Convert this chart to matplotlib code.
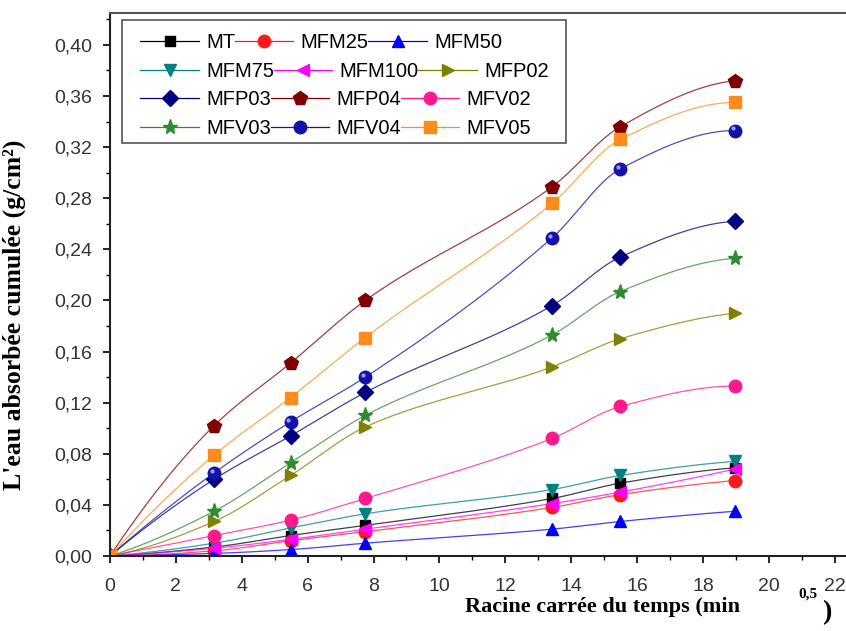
import numpy as np
import matplotlib
matplotlib.use("Agg")
import matplotlib.pyplot as plt
from matplotlib.patches import Rectangle
from matplotlib.transforms import offset_copy
from matplotlib.ticker import MultipleLocator, FixedLocator, FixedFormatter

# ---- data: square root of time (min^0.5) and cumulative absorbed water (g/cm2)
sqrt_t = [0, 3.16, 5.48, 7.75, 13.42, 15.49, 18.97]

MT     = [0, 0.007, 0.016, 0.024, 0.045, 0.057, 0.069]
MFM25  = [0, 0.004, 0.012, 0.019, 0.038, 0.048, 0.059]
MFM50  = [0, 0.002, 0.005, 0.010, 0.021, 0.027, 0.035]
MFM75  = [0, 0.010, 0.022, 0.033, 0.052, 0.063, 0.074]
MFM100 = [0, 0.006, 0.013, 0.021, 0.041, 0.050, 0.068]
MFP02  = [0, 0.027, 0.063, 0.101, 0.148, 0.170, 0.190]
MFP03  = [0, 0.060, 0.094, 0.128, 0.196, 0.234, 0.262]
MFP04  = [0, 0.102, 0.151, 0.200, 0.289, 0.336, 0.372]
MFV02  = [0, 0.016, 0.028, 0.045, 0.092, 0.117, 0.133]
MFV03  = [0, 0.035, 0.073, 0.110, 0.173, 0.207, 0.233]
MFV04  = [0, 0.065, 0.105, 0.140, 0.249, 0.303, 0.333]
MFV05  = [0, 0.079, 0.124, 0.171, 0.276, 0.326, 0.355]

names = ["MT", "MFM25", "MFM50", "MFM75", "MFM100", "MFP02",
         "MFP03", "MFP04", "MFV02", "MFV03", "MFV04", "MFV05"]
series = [MT, MFM25, MFM50, MFM75, MFM100, MFP02,
          MFP03, MFP04, MFV02, MFV03, MFV04, MFV05]

x_ticks = [0, 2, 4, 6, 8, 10, 12, 14, 16, 18, 20, 22]
x_tick_labels = ["0", "2", "4", "6", "8", "10", "12", "14", "16", "18", "20", "22"]
y_ticks = [0.00, 0.04, 0.08, 0.12, 0.16, 0.20, 0.24, 0.28, 0.32, 0.36, 0.40]
y_tick_labels = ["0,00", "0,04", "0,08", "0,12", "0,16", "0,20",
                 "0,24", "0,28", "0,32", "0,36", "0,40"]

# ---- styles
colors = ["#000000", "#ff1a1a", "#0000ff", "#008080", "#ff00ff", "#808000",
          "#000080", "#800000", "#ff1a8c", "#2e8b2e", "#1212a8", "#ff8c1a"]
markers = ["s", "o", "^", "v", "<", ">", "D", "p", "o", "*", "o", "s"]
msizes = [7, 9, 9, 9, 9, 9, 8, 10, 9, 11, 9, 8]
SERIF = "Liberation Serif"
SANS = "Liberation Sans"


def pchip(x, y, n=300):
    """Shape-preserving piecewise cubic through the points."""
    x = np.asarray(x, float)
    y = np.asarray(y, float)
    h = np.diff(x)
    delta = np.diff(y) / h
    m = len(x)
    d = np.zeros(m)
    for k in range(1, m - 1):
        if delta[k - 1] * delta[k] > 0:
            w1 = 2 * h[k] + h[k - 1]
            w2 = h[k] + 2 * h[k - 1]
            d[k] = (w1 + w2) / (w1 / delta[k - 1] + w2 / delta[k])
    d[0] = ((2 * h[0] + h[1]) * delta[0] - h[0] * delta[1]) / (h[0] + h[1])
    if np.sign(d[0]) != np.sign(delta[0]):
        d[0] = 0
    d[-1] = ((2 * h[-1] + h[-2]) * delta[-1] - h[-1] * delta[-2]) / (h[-1] + h[-2])
    if np.sign(d[-1]) != np.sign(delta[-1]):
        d[-1] = 0
    xs = np.linspace(x[0], x[-1], n)
    i = np.clip(np.searchsorted(x, xs, side="right") - 1, 0, m - 2)
    t = (xs - x[i]) / h[i]
    h00 = 2 * t ** 3 - 3 * t ** 2 + 1
    h10 = t ** 3 - 2 * t ** 2 + t
    h01 = -2 * t ** 3 + 3 * t ** 2
    h11 = t ** 3 - t ** 2
    ys = h00 * y[i] + h10 * h[i] * d[i] + h01 * y[i + 1] + h11 * h[i] * d[i + 1]
    return xs, ys


fig = plt.figure(figsize=(8.46, 6.31), dpi=100)
ax = fig.add_axes([0.130, 0.1189, 0.870, 0.8605])

handles = []
for name, vals, col, mk, ms in zip(names, series, colors, markers, msizes):
    xs, ys = pchip(sqrt_t, vals)
    ax.plot(xs, ys, color=col, lw=0.9, alpha=0.75)
    ax.plot(sqrt_t, vals, linestyle="none", marker=mk, ms=ms, color=col,
            markeredgecolor=col)
    if name == "MFV04":
        # glossy highlight on the sphere markers
        hl = offset_copy(ax.transData, fig=fig, x=-1.5, y=1.5, units="points")
        ax.plot(sqrt_t, vals, linestyle="none", marker="o", ms=3,
                color="#9a9aff", markeredgewidth=0, transform=hl)
    h, = plt.plot([], [], color=col, lw=0.9, marker=mk, ms=ms,
                  markeredgecolor=col)
    handles.append(h)

ax.set_xlim(0, 22.34)
ax.set_ylim(0, 0.425)

ax.xaxis.set_major_locator(FixedLocator(x_ticks))
ax.xaxis.set_major_formatter(FixedFormatter(x_tick_labels))
ax.xaxis.set_minor_locator(MultipleLocator(1))
ax.yaxis.set_major_locator(FixedLocator(y_ticks))
ax.yaxis.set_major_formatter(FixedFormatter(y_tick_labels))
ax.yaxis.set_minor_locator(MultipleLocator(0.02))

ax.tick_params(which="major", direction="out", length=5, width=1.2,
               labelsize=14, labelcolor="#333333")
ax.tick_params(axis="x", which="major", pad=11)
ax.tick_params(axis="y", which="major", pad=8)
ax.tick_params(which="minor", direction="out", length=3, width=1.0)
for lab in ax.get_xticklabels() + ax.get_yticklabels():
    lab.set_family(SANS)

for s in ["left", "bottom", "top"]:
    ax.spines[s].set_linewidth(1.5)
    ax.spines[s].set_color("#222222")
ax.spines["top"].set_color("#555555")
ax.spines["right"].set_visible(False)

ax.set_ylabel("L'eau absorbée cumulée (g/cm²)", family=SERIF,
              fontweight="bold", fontsize=18.5)
ax.yaxis.set_label_coords(-0.114, 0.445)

# x-axis title with its raised exponent and closing bracket
ax.set_xlabel("Racine carrée du temps (min", family=SERIF,
              fontweight="bold", fontsize=16, ha="left", va="baseline")
ax.xaxis.set_label_coords(0.482, -0.104)
ax.text(0.935, -0.058, "0,5", transform=ax.transAxes, family=SERIF,
        fontweight="bold", fontsize=11, ha="left", va="top")
ax.text(0.967, -0.117, ")", transform=ax.transAxes, family=SERIF,
        fontweight="bold", fontsize=20, ha="left", va="baseline")

# ---- legend: four rows, each flowing like a line of text
order_rows = [[0, 1, 2], [3, 4, 5], [6, 7, 8], [9, 10, 11]]
row_centers = [0.932, 0.886, 0.842, 0.797]
for row, yc in zip(order_rows, row_centers):
    fig.legend([handles[i] for i in row], [names[i] for i in row],
               loc="center left", bbox_to_anchor=(0.166, yc), ncol=3,
               frameon=False, handlelength=2.9, handletextpad=0.35,
               columnspacing=0.0, borderpad=0.0, borderaxespad=0.0,
               prop={"family": SANS, "size": 14.5})
fig.patches.append(Rectangle((0.144, 0.774), 0.525, 0.194,
                             transform=fig.transFigure, fill=False,
                             edgecolor="#555555", lw=1.2))

fig.savefig("out.png", dpi=100)
